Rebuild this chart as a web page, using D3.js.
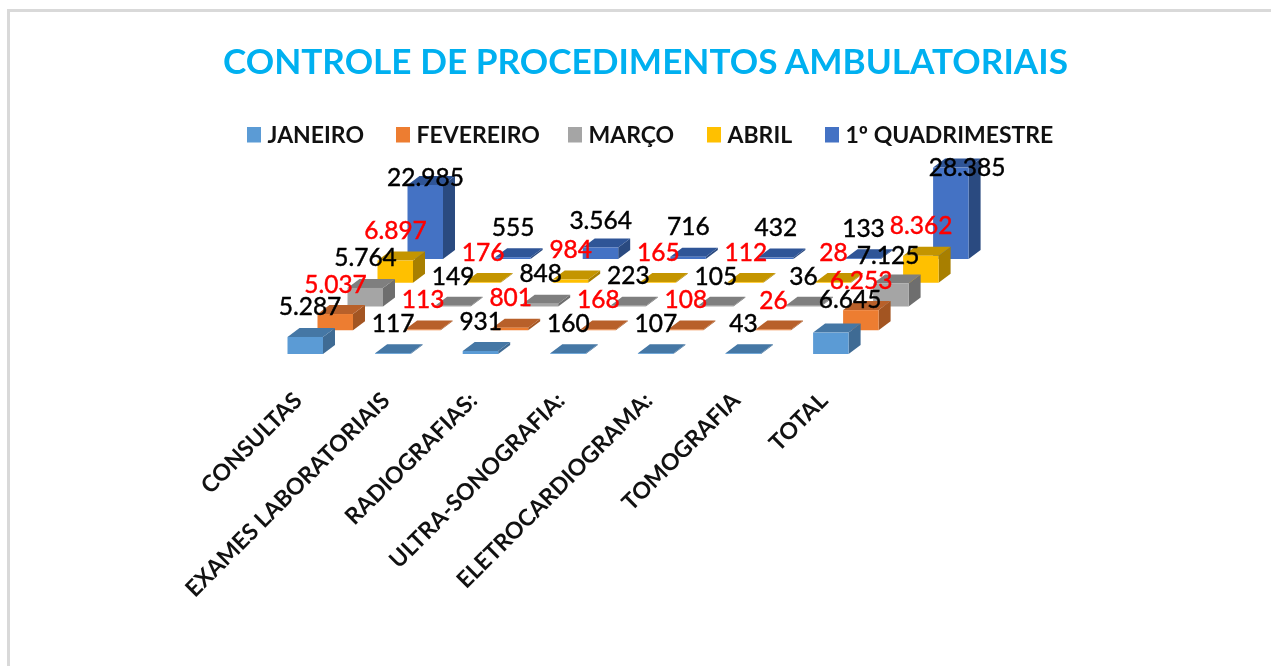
<!DOCTYPE html>
<html><head><meta charset="utf-8">
<script src="https://cdnjs.cloudflare.com/ajax/libs/d3/7.8.5/d3.min.js"></script>
<style>html,body{margin:0;padding:0;background:#fff;overflow:hidden}svg{display:block;filter:blur(.55px)}text{font-family:Lato,"Noto Sans",sans-serif}</style>
</head><body><svg id="c" width="1271" height="666"></svg>
<script>
const titleText = "CONTROLE DE PROCEDIMENTOS AMBULATORIAIS";
const categories = ["CONSULTAS","EXAMES LABORATORIAIS","RADIOGRAFIAS:","ULTRA-SONOGRAFIA:","ELETROCARDIOGRAMA:","TOMOGRAFIA","TOTAL"];
const seriesNames = ["JANEIRO","FEVEREIRO","MARÇO","ABRIL","1º QUADRIMESTRE"];
const janeiro = [5287,117,931,160,107,43,6645];
const fevereiro = [5037,113,801,168,108,26,6253];
const marco = [5764,149,848,223,105,36,7125];
const abril = [6897,176,984,165,112,28,8362];
const quadrimestre = [22985,555,3564,716,432,133,28385];
const seriesValues = [janeiro,fevereiro,marco,abril,quadrimestre];

const frontColors = ["#5b9bd5","#ed7d31","#a5a5a5","#ffc000","#4472c4"];
const topColors   = ["#4577a5","#b8602a","#7f7f7f","#c49500","#2f5597"];
const sideColors  = ["#3f6b94","#a35522","#6e6e6e","#a87f00","#2a4a80"];
const labelColors = ["#000","#ff0000","#000","#ff0000","#000"];
// placement corrections for labels the original chart nudged: "series,category" -> [dx,dy]
const nudges = {"0,0":[4.5,0],"0,6":[19,-3],"4,0":[0,23],"4,6":[16,30],"4,2":[0,3],"2,6":[-3,2]};

const svg = d3.select("#c");
svg.append("path").attr("d","M1271,10.5H8.5V666").attr("fill","none").attr("stroke","#d9d9d9").attr("stroke-width",3);

svg.append("text").attr("x",645.5).attr("y",74).attr("text-anchor","middle")
  .attr("font-size",35.2).attr("font-weight",700).attr("fill","#00b0f0").text(titleText);

const x = d3.scaleBand().domain(categories).range([287.5,287.5+7*87.6]).padding(0);
const sx = d3.scalePoint().domain(seriesNames).range([0,120]);
const sy = d3.scalePoint().domain(seriesNames).range([354,259]);
const h = d3.scaleLinear().domain([0,30000]).range([0,96.6]);
const fmt = d3.formatLocale({decimal:",",thousands:".",grouping:[3],currency:["",""]}).format(",d");
const barW = 35.5, depX = 12, depY = 9;

const rows = seriesNames.map((s,si)=>categories.map((c,ci)=>({s,si,c,ci,v:seriesValues[si][ci]})));
const poly = pts => "M"+pts.map(p=>p.join(",")).join("L")+"Z";

const bars = svg.append("g");
d3.range(seriesNames.length-1,-1,-1).forEach(si=>{
  const g = bars.append("g");
  rows[si].forEach(d=>{
    const l = x(d.c)+sx(d.s), r = l+barW, b = sy(d.s), t = b-Math.max(h(d.v),.8);
    g.append("path").attr("d",poly([[r,b],[r+depX,b-depY],[r+depX,t-depY],[r,t]])).attr("fill",sideColors[si]);
    g.append("path").attr("d",poly([[l,t],[r,t],[r+depX,t-depY],[l+depX,t-depY]])).attr("fill",topColors[si]);
    g.append("rect").attr("x",l).attr("y",t).attr("width",barW).attr("height",b-t).attr("fill",frontColors[si]);
  });
});

const labels = svg.append("g").attr("font-size",24.5).attr("text-anchor","middle");
rows.forEach((row,si)=>row.forEach(d=>{
  const n = nudges[si+","+d.ci]||[0,0];
  labels.append("text")
    .attr("x",x(d.c)+sx(d.s)+18+n[0])
    .attr("y",sy(d.s)-h(d.v)-30+n[1]+8.5)
    .attr("fill",labelColors[si]).attr("stroke",labelColors[si]).attr("stroke-width",.45).text(fmt(d.v));
}));

const legendSwatchX = [247,396,568,707,825];
seriesNames.forEach((s,i)=>{
  svg.append("rect").attr("x",legendSwatchX[i]).attr("y",127).attr("width",14).attr("height",15.5).attr("fill",frontColors[i]);
  svg.append("text").attr("x",legendSwatchX[i]+20.5).attr("y",142.5).attr("font-size",23).attr("font-weight",700).attr("fill","#111").text(s);
});

categories.forEach(c=>{
  svg.append("text").attr("text-anchor","end").attr("font-size",23).attr("font-weight",700).attr("fill","#111")
    .attr("transform",`translate(${x(c)+16},402) rotate(-45)`).text(c);
});
</script></body></html>
